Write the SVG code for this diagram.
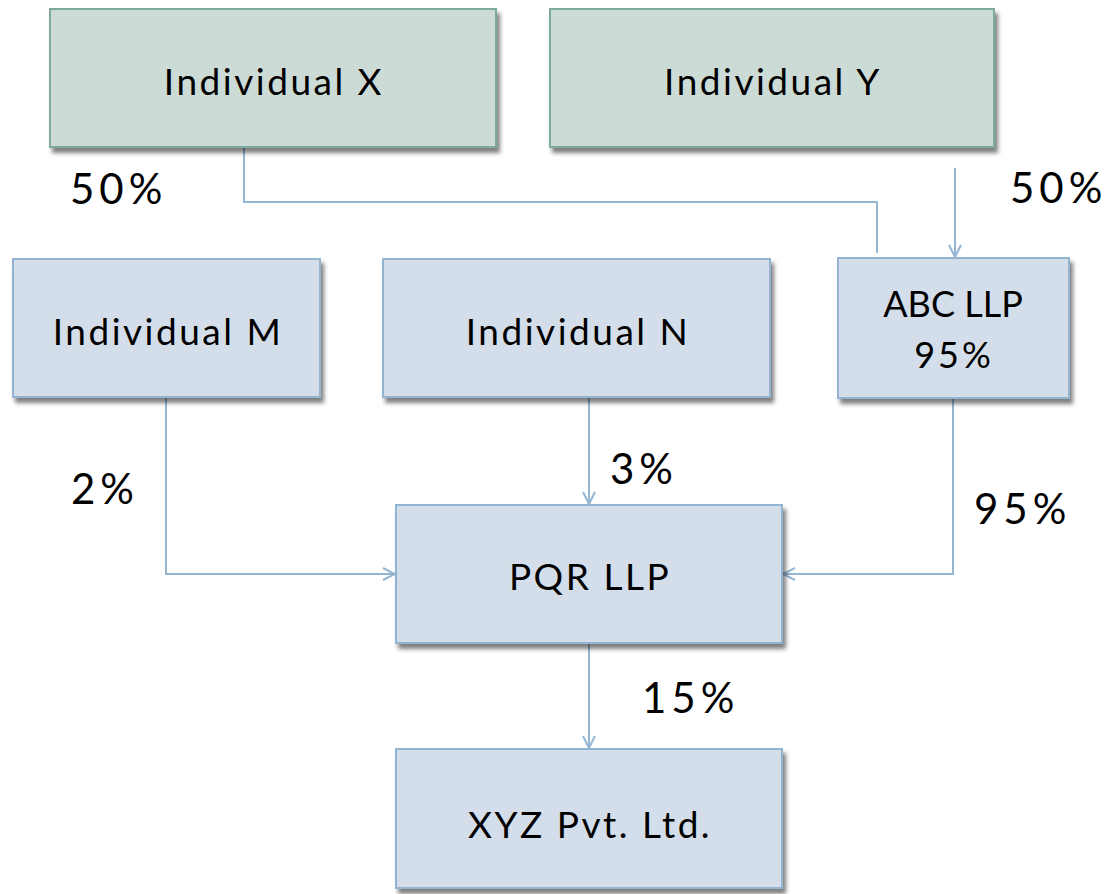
<svg xmlns="http://www.w3.org/2000/svg" width="1106" height="894" viewBox="0 0 1106 894">
  <defs>
    <filter id="shadow" x="-5%" y="-10%" width="115%" height="130%">
      <feDropShadow dx="3" dy="5" stdDeviation="2" flood-color="#000" flood-opacity="0.5"/>
    </filter>
    <marker id="arrow" viewBox="0 0 14 14" refX="13" refY="7" markerWidth="14" markerHeight="14" markerUnits="userSpaceOnUse" orient="auto">
      <path d="M1,1 L13,7 L1,13" fill="none" stroke="#94b6d3" stroke-width="2"/>
    </marker>
    <style>
      .owner rect { fill: #cddbd6; stroke: #7ea99e; stroke-width: 2; filter: url(#shadow); }
      .entity rect { fill: #d4deea; stroke: #93b4d1; stroke-width: 2; filter: url(#shadow); }
      .name { font-family: Lato, "Open Sans", sans-serif; font-size: 37px; letter-spacing: 2.5px; fill: #000; text-anchor: middle; }
      .name.tight { font-size: 36px; letter-spacing: 0; }
      .name.spaced { font-size: 36px; letter-spacing: 3px; }
      .pct { font-family: Lato, "Open Sans", sans-serif; font-size: 42px; letter-spacing: 5px; fill: #000; }
      #connectors path { fill: none; stroke: #94b6d3; stroke-width: 2; }
    </style>
  </defs>

  <rect width="1106" height="894" fill="#fff"/>

  <g id="connectors">
    <path d="M244,147 V202 H877 V253"/>
    <path d="M955,168 V257" marker-end="url(#arrow)"/>
    <path d="M166,397 V574 H395" marker-end="url(#arrow)"/>
    <path d="M589,397 V504" marker-end="url(#arrow)"/>
    <path d="M953,398 V574 H783" marker-end="url(#arrow)"/>
    <path d="M589,643 V748" marker-end="url(#arrow)"/>
  </g>

  <g id="individual-x" class="owner">
    <rect x="50" y="9" width="446" height="138"/>
    <text class="name" x="274" y="95">Individual X</text>
  </g>
  <g id="individual-y" class="owner">
    <rect x="550" y="9" width="444" height="138"/>
    <text class="name" x="773" y="95">Individual Y</text>
  </g>
  <g id="individual-m" class="entity">
    <rect x="13" y="259" width="307" height="138"/>
    <text class="name" x="168" y="345">Individual M</text>
  </g>
  <g id="individual-n" class="entity">
    <rect x="383" y="259" width="387" height="138"/>
    <text class="name" x="578" y="345">Individual N</text>
  </g>
  <g id="abc-llp" class="entity">
    <rect x="838" y="258" width="231" height="140"/>
    <text class="name tight" x="953" y="317">ABC LLP</text>
    <text class="name spaced" x="954" y="368">95%</text>
  </g>
  <g id="pqr-llp" class="entity">
    <rect x="396" y="505" width="386" height="138"/>
    <text class="name" x="590" y="590">PQR LLP</text>
  </g>
  <g id="xyz-pvt-ltd" class="entity">
    <rect x="396" y="749" width="386" height="139"/>
    <text class="name" x="590" y="838">XYZ Pvt. Ltd.</text>
  </g>

  <g id="labels">
    <text class="pct" x="70" y="204">50%</text>
    <text class="pct" x="1010" y="203">50%</text>
    <text class="pct" x="71" y="504">2%</text>
    <text class="pct" x="610" y="484">3%</text>
    <text class="pct" x="974" y="524">95%</text>
    <text class="pct" x="642" y="713">15%</text>
  </g>
</svg>
